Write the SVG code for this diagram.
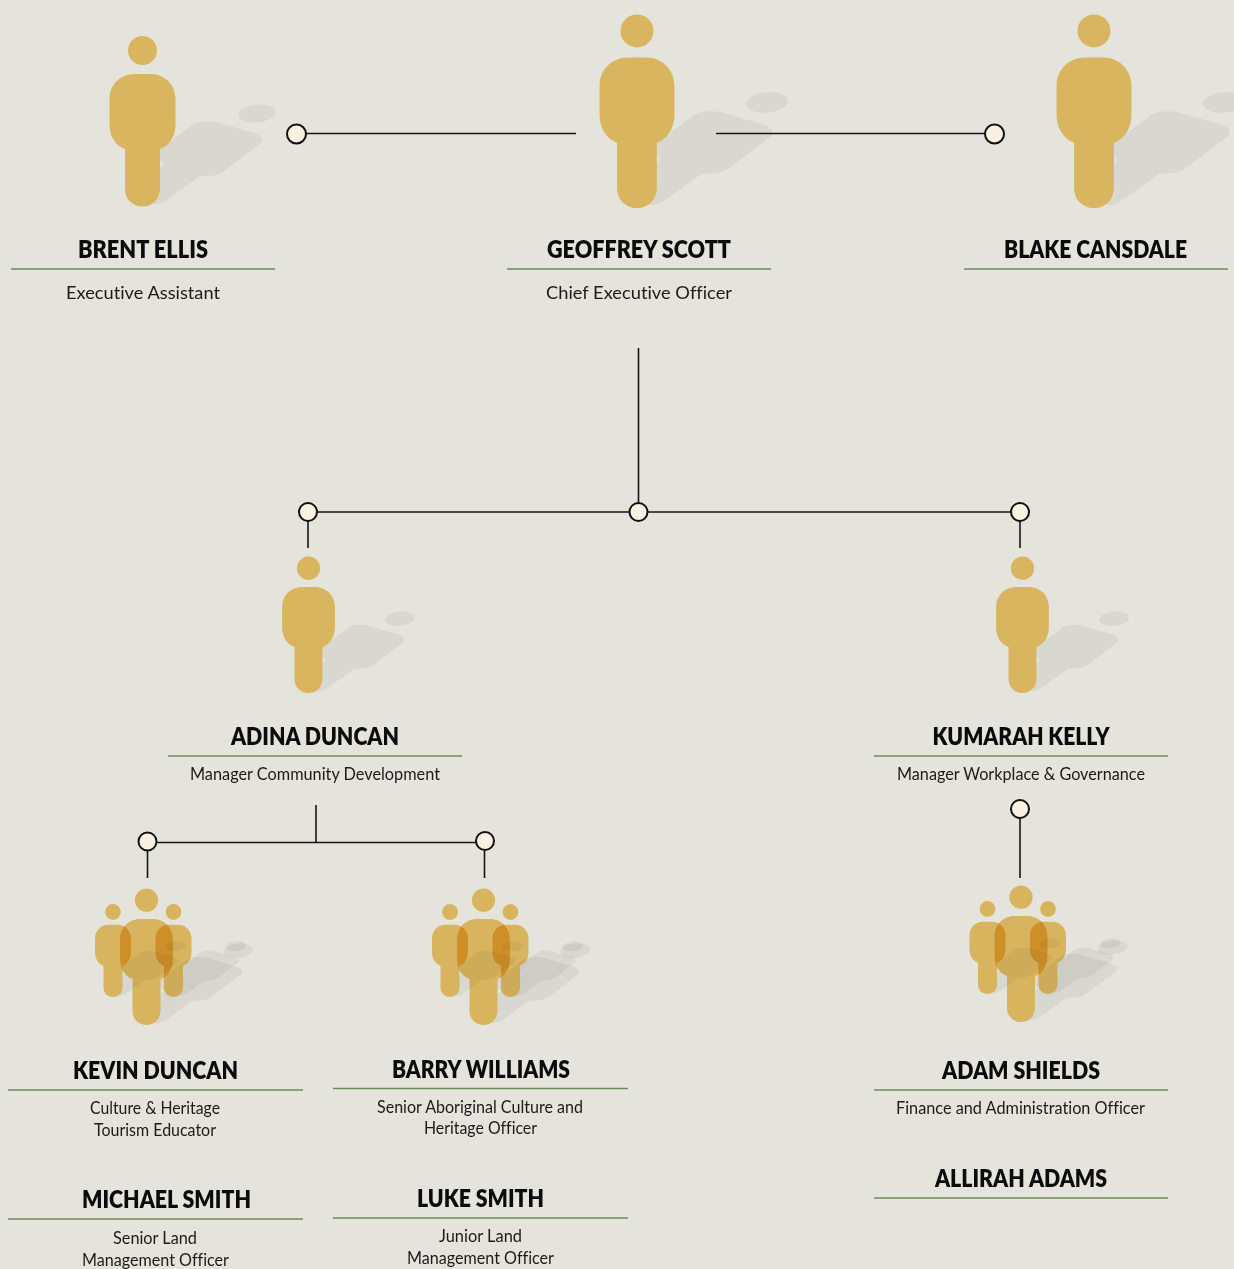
<svg xmlns="http://www.w3.org/2000/svg" width="1234" height="1269" viewBox="0 0 1234 1269">
<style>
.bg{fill:#e4e4dc}
text{font-family:Lato,"Liberation Sans",sans-serif;text-anchor:middle;font-variant-ligatures:none}
.n{font-weight:800;font-size:24px;fill:#0b0b0b}
.r{font-weight:400;font-size:18px;fill:#1a1a1a}
.u{stroke:#6f8a5a;stroke-width:1.5;fill:none}
.c{stroke:#151515;stroke-width:1.6;fill:none}
.d{fill:#f8f1e1;stroke:#111;stroke-width:2}
.b{fill:#d9b55f}
.s{fill:#d8d8d1}
.gb{fill:#f3ca6d;mix-blend-mode:multiply}
.gs{fill:#f2f2f2;mix-blend-mode:multiply}
</style>
<defs>
<path id="body" d="M134.500 74H150.500C165 74 175.500 85 175.500 99V124C175.500 138 168 146.500 160 149V189C160 199 152.500 206.500 142.500 206.500C132.500 206.500 125 199 125 189V149C117 146.500 109.500 138 109.500 124V99C109.500 85 120 74 134.500 74Z"/>
<path id="shadow" d="M160 149L195 123Q205 120 216 122L254 133Q265 137 261 143L228 168Q220 176 208 176H200L167 200Q160 205 153 204L160 195V168L164 164L160 160Z"/>
<g id="person"><ellipse class="s" cx="257" cy="113.500" rx="18.500" ry="9" transform="rotate(-5 257 113.500)"/><use href="#shadow" class="s"/><circle class="b" cx="142.500" cy="50.500" r="14.500"/><use href="#body" class="b"/></g>
<g id="gf"><circle class="gb" cx="142.500" cy="50.500" r="14.500"/><use href="#body" class="gb"/></g>
<g id="gh"><ellipse class="gs" cx="257" cy="113.500" rx="18.500" ry="9" transform="rotate(-5 257 113.500)"/><use href="#shadow" class="gs"/></g>
<g id="team">
<use href="#gh" transform="translate(173.500 997) scale(.545) translate(-142.500 -206.500)"/>
<use href="#gf" transform="translate(173.500 997) scale(.545) translate(-142.500 -206.500)"/>
<use href="#gf" transform="translate(113 997) scale(.545) translate(-142.500 -206.500)"/>
<use href="#gh" transform="translate(146.500 1025) scale(.8) translate(-142.500 -206.500)"/>
<use href="#gf" transform="translate(146.500 1025) scale(.8) translate(-142.500 -206.500)"/>
<use href="#gh" transform="translate(113 997) scale(.545) translate(-142.500 -206.500)"/>
</g>
</defs>
<rect class="bg" width="1234" height="1269"/>
<g id="brent-ellis"><use href="#person"/><path class="u" d="M11 269H275"/><text class="n" x="143" y="258" textLength="130" lengthAdjust="spacingAndGlyphs">BRENT ELLIS</text><text class="r" x="143" y="299" textLength="154" lengthAdjust="spacingAndGlyphs">Executive Assistant</text></g>
<g id="geoffrey-scott"><use href="#person" transform="translate(637 208) scale(1.135) translate(-142.500 -206.500)"/><path class="u" d="M507 269H771"/><text class="n" x="639" y="258" textLength="184" lengthAdjust="spacingAndGlyphs">GEOFFREY SCOTT</text><text class="r" x="639" y="299" textLength="186" lengthAdjust="spacingAndGlyphs">Chief Executive Officer</text></g>
<g id="blake-cansdale"><use href="#person" transform="translate(1094 208) scale(1.135) translate(-142.500 -206.500)"/><path class="u" d="M964 269H1228"/><text class="n" x="1095.500" y="258" textLength="183" lengthAdjust="spacingAndGlyphs">BLAKE CANSDALE</text></g>
<g id="adina-duncan"><use href="#person" transform="translate(308.500 693) scale(.8) translate(-142.500 -206.500)"/><path class="u" d="M168 756H462"/><text class="n" x="315" y="745" textLength="168" lengthAdjust="spacingAndGlyphs">ADINA DUNCAN</text><text class="r" x="315" y="780" textLength="250" lengthAdjust="spacingAndGlyphs" style="font-size:17px">Manager Community Development</text></g>
<g id="kumarah-kelly"><use href="#person" transform="translate(1022.500 693) scale(.8) translate(-142.500 -206.500)"/><path class="u" d="M874 756H1168"/><text class="n" x="1021" y="745" textLength="177" lengthAdjust="spacingAndGlyphs">KUMARAH KELLY</text><text class="r" x="1021" y="780" textLength="248" lengthAdjust="spacingAndGlyphs" style="font-size:17px">Manager Workplace &amp; Governance</text></g>
<g id="kevin-duncan"><use href="#team"/><path class="u" d="M8 1090H303"/><text class="n" x="155.500" y="1079" textLength="165" lengthAdjust="spacingAndGlyphs">KEVIN DUNCAN</text><text class="r" x="155" y="1114" textLength="130" lengthAdjust="spacingAndGlyphs" style="font-size:17px">Culture &amp; Heritage</text><text class="r" x="155" y="1136" textLength="122" lengthAdjust="spacingAndGlyphs" style="font-size:17px">Tourism Educator</text></g>
<g id="michael-smith"><path class="u" d="M8 1219H303"/><text class="n" x="166.500" y="1208" textLength="169" lengthAdjust="spacingAndGlyphs">MICHAEL SMITH</text><text class="r" x="155" y="1244" textLength="84" lengthAdjust="spacingAndGlyphs" style="font-size:17px">Senior Land</text><text class="r" x="155.500" y="1266" textLength="147" lengthAdjust="spacingAndGlyphs" style="font-size:17px">Management Officer</text></g>
<g id="barry-williams"><use href="#team" transform="translate(337 0)"/><path class="u" d="M333 1088.500H628"/><text class="n" x="481" y="1078" textLength="178" lengthAdjust="spacingAndGlyphs">BARRY WILLIAMS</text><text class="r" x="480" y="1113" textLength="206" lengthAdjust="spacingAndGlyphs" style="font-size:17px">Senior Aboriginal Culture and</text><text class="r" x="480.500" y="1134" textLength="113" lengthAdjust="spacingAndGlyphs" style="font-size:17px">Heritage Officer</text></g>
<g id="luke-smith"><path class="u" d="M333 1218H628"/><text class="n" x="480.500" y="1207" textLength="127" lengthAdjust="spacingAndGlyphs">LUKE SMITH</text><text class="r" x="480.500" y="1242" textLength="83" lengthAdjust="spacingAndGlyphs" style="font-size:17px">Junior Land</text><text class="r" x="480.500" y="1264" textLength="147" lengthAdjust="spacingAndGlyphs" style="font-size:17px">Management Officer</text></g>
<g id="adam-shields"><use href="#team" transform="translate(874.500 -3)"/><path class="u" d="M874 1090H1168"/><text class="n" x="1021" y="1079" textLength="158" lengthAdjust="spacingAndGlyphs">ADAM SHIELDS</text><text class="r" x="1020.500" y="1114" textLength="249" lengthAdjust="spacingAndGlyphs" style="font-size:17px">Finance and Administration Officer</text></g>
<g id="allirah-adams"><path class="u" d="M874 1198H1168"/><text class="n" x="1021" y="1187" textLength="172" lengthAdjust="spacingAndGlyphs">ALLIRAH ADAMS</text></g>
<g id="connectors">
<path class="c" d="M306 133.500H576M716 133.500H985M638.500 348V503M317 512H629.500M648 512H1011M308 521V548M1020 521V548M316 805V842.500M157 842.500H476M147.500 851V878M484.500 851V878M1020 818V878"/>
<circle class="d" cx="296.500" cy="134" r="9.500"/><circle class="d" cx="994.500" cy="134" r="9.500"/><circle class="d" cx="308" cy="512" r="9"/><circle class="d" cx="638.500" cy="512" r="9"/><circle class="d" cx="1020" cy="512" r="9"/><circle class="d" cx="147.500" cy="841.500" r="9"/><circle class="d" cx="485" cy="841" r="9"/><circle class="d" cx="1020" cy="809" r="9"/>
</g>
</svg>
